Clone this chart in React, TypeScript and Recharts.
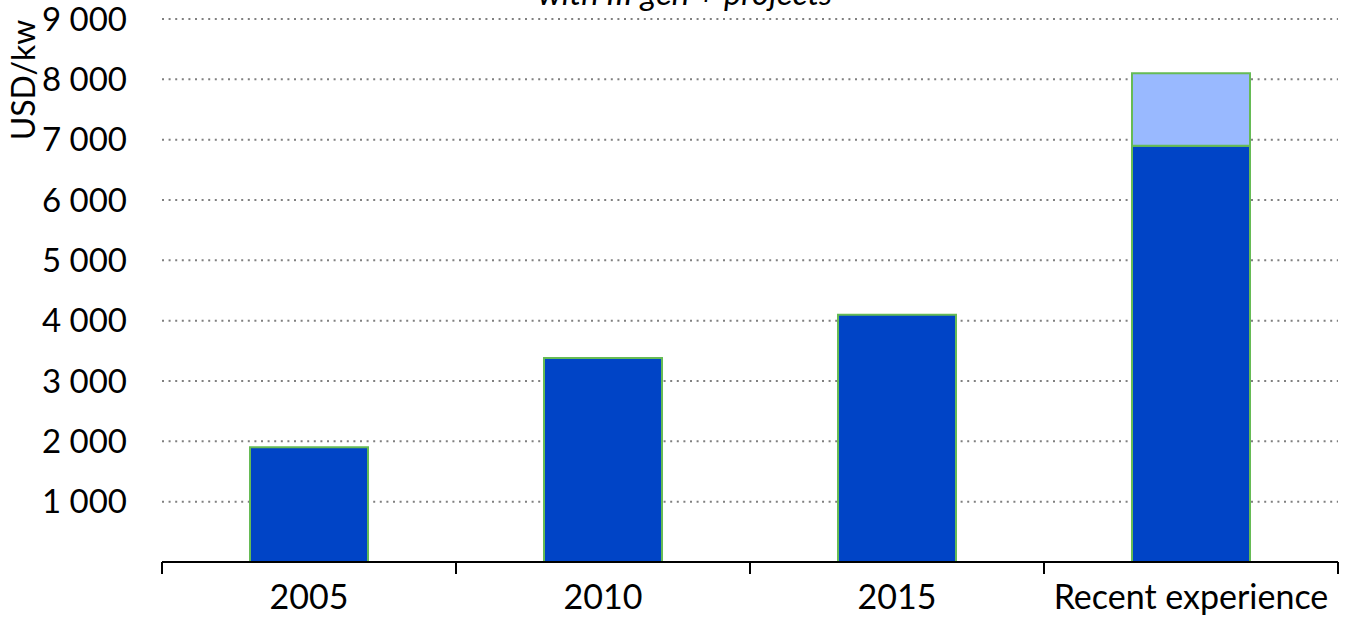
import React from "react"
import {
  BarChart,
  Bar,
  XAxis,
  YAxis,
  CartesianGrid,
} from "recharts"

const categories = ["2005", "2010", "2015", "Recent experience"]
const baseCost = [1900, 3380, 4100, 6900]
const extraCost = [0, 0, 0, 1200]
const yTicks = [1000, 2000, 3000, 4000, 5000, 6000, 7000, 8000, 9000]

const data = categories.map((name, i) => ({
  name,
  base: baseCost[i],
  extra: extraCost[i] || null,
}))

const FONT = "Lato, 'Open Sans', sans-serif"
const DARK_BLUE = "#0044C6"
const LIGHT_BLUE = "#99B9FF"
const EDGE = "#66BB55"

const fmt = (v: number) => v.toLocaleString("en-US").replace(/,/g, " ")

// tick marks sit on the category boundaries, not the centres
function CategoryTick(props: any) {
  const { x, y, payload, index, visibleTicksCount } = props
  const half = payload?.offset ?? 147
  const last = index === visibleTicksCount - 1
  return (
    <g>
      <line x1={x - half} x2={x - half} y1={y} y2={y + 12} stroke="#000" strokeWidth={2} />
      {last && <line x1={x + half} x2={x + half} y1={y} y2={y + 12} stroke="#000" strokeWidth={2} />}
      <text x={x} y={y + 47} textAnchor="middle" fontFamily={FONT} fontSize={34} fill="#000">
        {payload.value}
      </text>
    </g>
  )
}

export default function App() {
  return (
    <div style={{ position: "absolute", left: 0, top: 0, width: 1346, height: 617, background: "#fff" }}>
      <BarChart
        width={1346}
        height={617}
        data={data}
        margin={{ top: 19, right: 8, left: 0, bottom: 0 }}
        barSize={118}
      >
        <CartesianGrid
          vertical={false}
          stroke="#808080"
          strokeWidth={2}
          strokeDasharray="2 4.6"
        />
        <XAxis
          dataKey="name"
          height={55}
          tickSize={0}
          tickMargin={0}
          tickLine={false}
          axisLine={{ stroke: "#000", strokeWidth: 2 }}
          tick={<CategoryTick />}
          interval={0}
        />
        <YAxis
          width={162}
          domain={[0, 9000]}
          ticks={yTicks}
          tickFormatter={fmt}
          axisLine={false}
          tickLine={false}
          tickSize={0}
          tickMargin={35}
          tick={{ fontFamily: FONT, fontSize: 33, fill: "#000" }}
          label={{
            content: ({ viewBox }: any) => (
              <text
                transform={`translate(${viewBox.x + 35}, ${viewBox.y + 61}) rotate(-90)`}
                textAnchor="middle"
                fontFamily={FONT}
                fontSize={32}
                fill="#000"
              >
                USD/kw
              </text>
            ),
          }}
        />
        <Bar dataKey="base" stackId="a" fill={DARK_BLUE} stroke={EDGE} strokeWidth={2} isAnimationActive={false} />
        <Bar dataKey="extra" stackId="a" fill={LIGHT_BLUE} stroke={EDGE} strokeWidth={2} isAnimationActive={false} />
      </BarChart>
      <svg width={1346} height={30} style={{ position: "absolute", left: 0, top: 0, pointerEvents: "none" }}>
        <text x={538} y={5} fontFamily={FONT} fontStyle="italic" fontSize={33} fill="#000">
          with III gen + projects
        </text>
      </svg>
    </div>
  )
}
